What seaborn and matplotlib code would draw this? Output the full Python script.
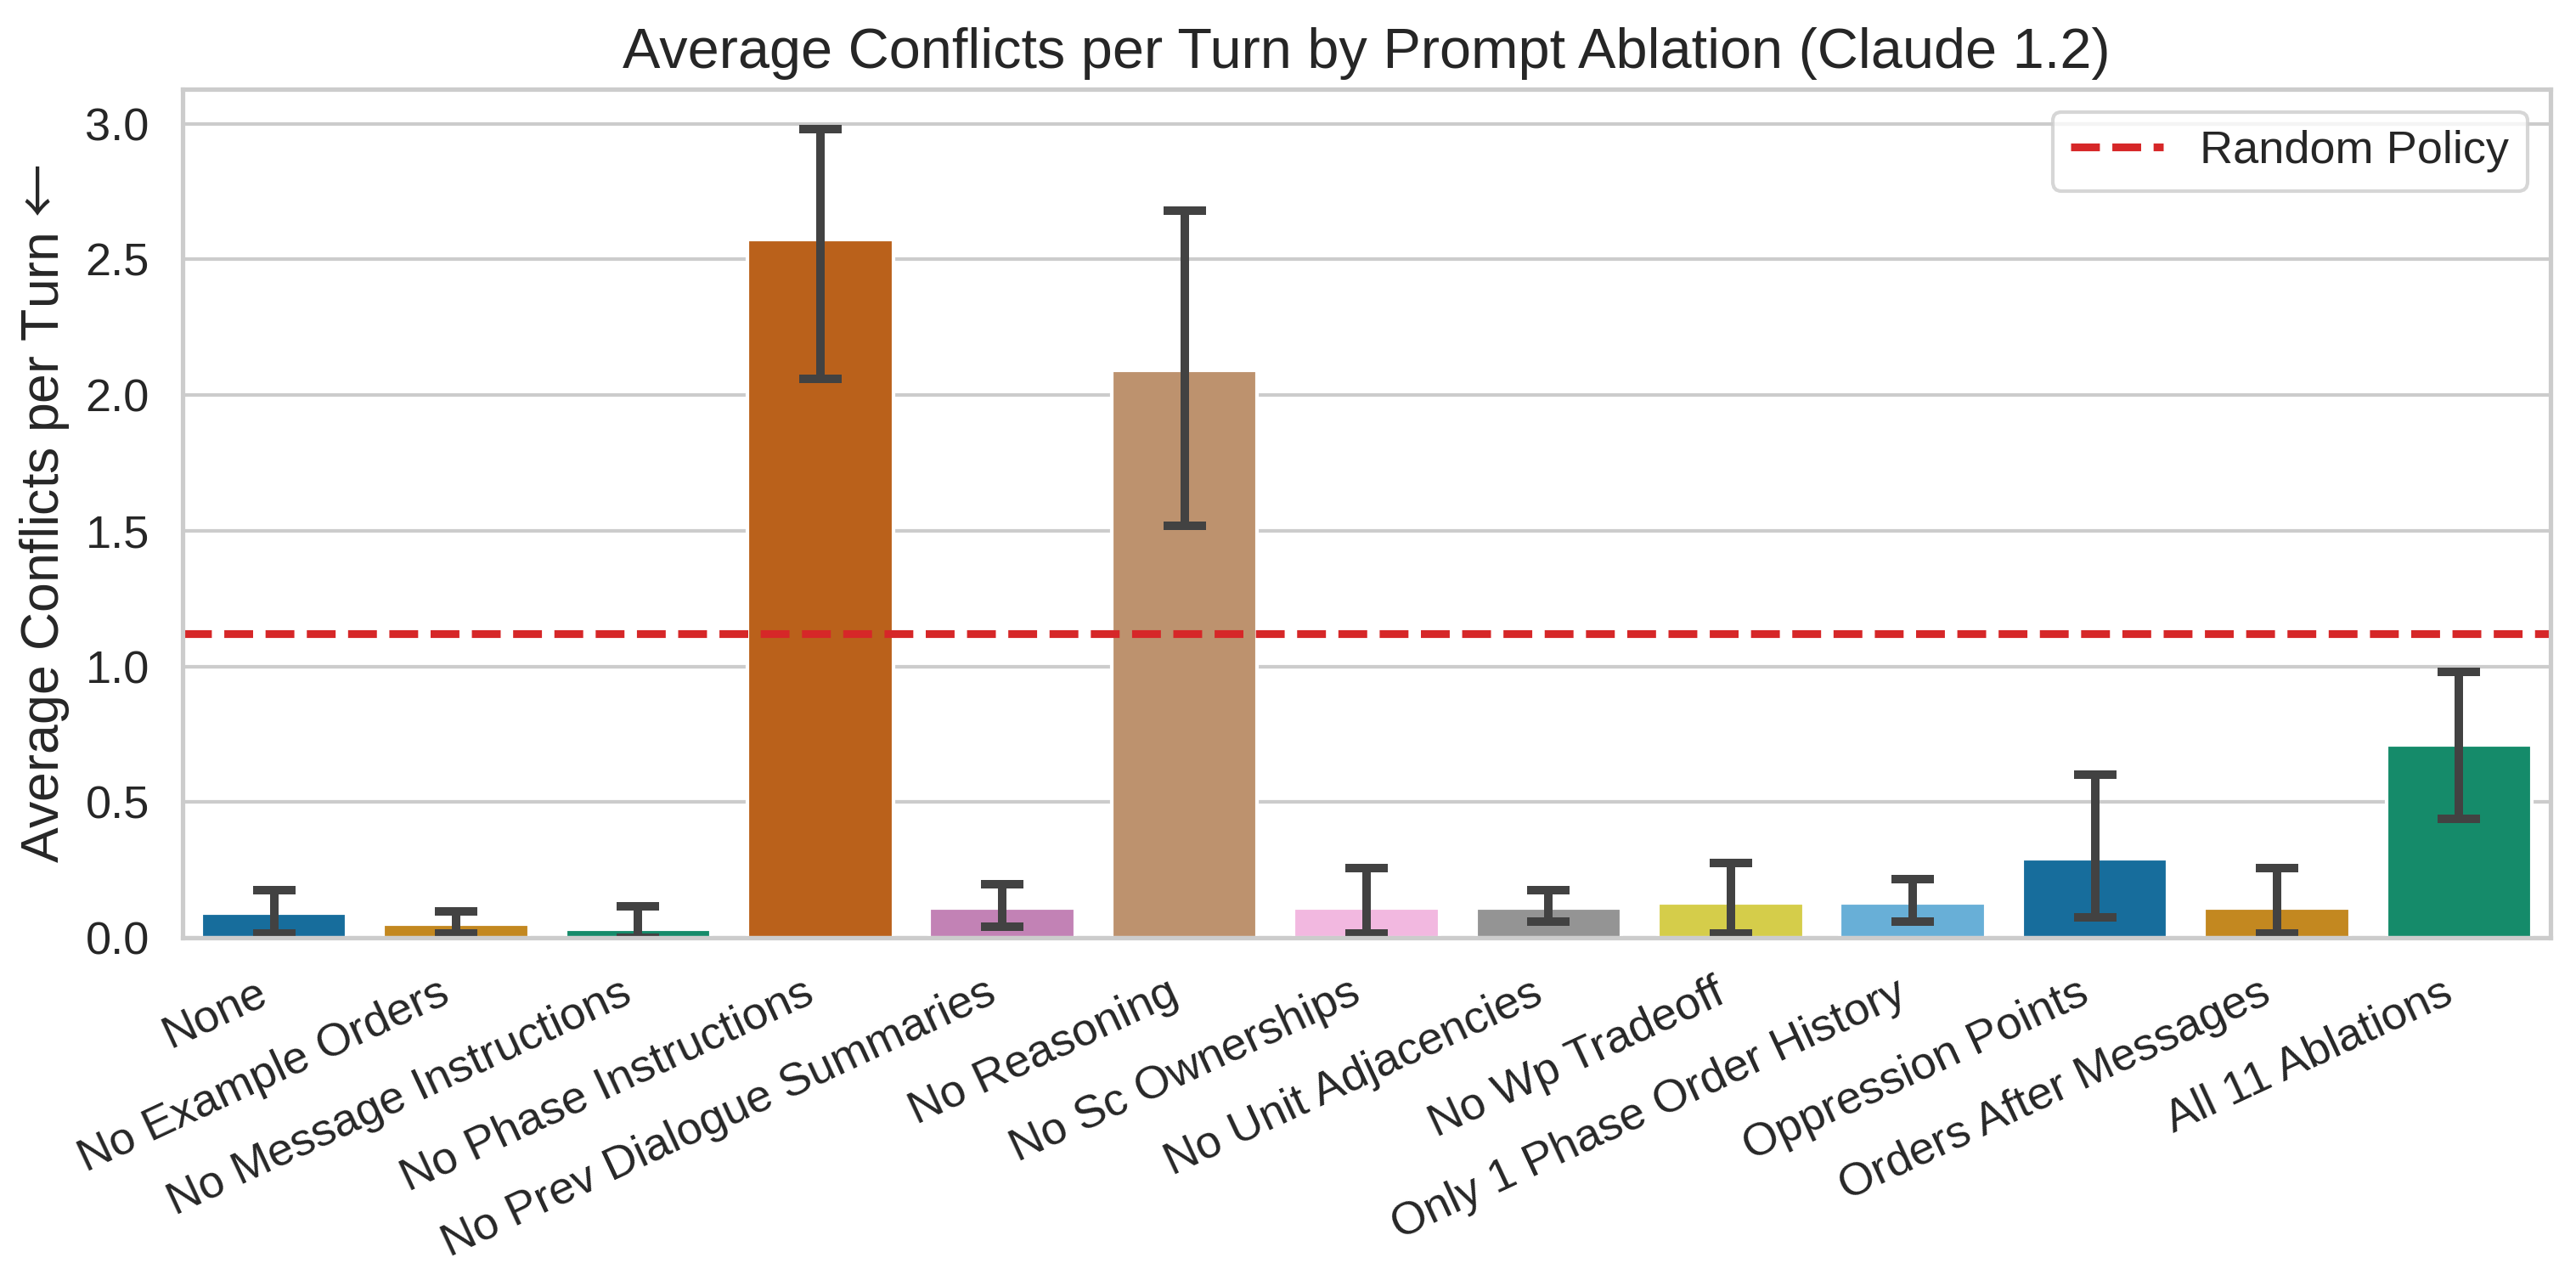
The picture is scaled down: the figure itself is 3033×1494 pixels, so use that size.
import numpy as np
import pandas as pd
import matplotlib
matplotlib.use("Agg")
import matplotlib.pyplot as plt
import seaborn as sns

# values
ablations = ['None', 'No Example Orders', 'No Message Instructions',
             'No Phase Instructions', 'No Prev Dialogue Summaries',
             'No Reasoning', 'No Sc Ownerships', 'No Unit Adjacencies',
             'No Wp Tradeoff', 'Only 1 Phase Order History',
             'Oppression Points', 'Orders After Messages', 'All 11 Ablations']
mean_conflicts = [0.09, 0.05, 0.03, 2.575, 0.11, 2.09, 0.11, 0.11,
                  0.13, 0.13, 0.29, 0.11, 0.71]
ci_low = [0.017, 0.017, 0.0, 2.06, 0.04, 1.52, 0.017, 0.06,
          0.017, 0.06, 0.075, 0.017, 0.44]
ci_high = [0.177, 0.098, 0.117, 2.98, 0.198, 2.68, 0.258, 0.177,
           0.277, 0.217, 0.6, 0.258, 0.979]
random_policy = 1.12

sns.set_theme(style='whitegrid')
plt.rcParams['font.family'] = ['Liberation Sans', 'DejaVu Sans']
# thin full-width arrow for the y label
plt.rcParams['mathtext.fontset'] = 'custom'
plt.rcParams['mathtext.rm'] = 'Noto Sans CJK JP'

df = pd.DataFrame({'ablation': ablations, 'conflicts': mean_conflicts})

fig, ax = plt.subplots(figsize=(10.11, 4.98), dpi=300)
sns.barplot(data=df, x='ablation', y='conflicts', hue='ablation',
            palette=sns.color_palette('colorblind', len(ablations)),
            legend=False, errorbar=None, ax=ax)

# asymmetric confidence intervals
means = np.array(mean_conflicts)
yerr = np.vstack([means - np.array(ci_low), np.array(ci_high) - means])
ax.errorbar(np.arange(len(ablations)), means, yerr=yerr, fmt='none',
            ecolor='#424242', elinewidth=2.4, capsize=6, capthick=2.4)

ax.axhline(random_policy, color='#d62728', linestyle='--', linewidth=2.2,
           label='Random Policy')
ax.set_xlim(-0.5, len(ablations) - 0.5)

ax.set_title('Average Conflicts per Turn by Prompt Ablation (Claude 1.2)',
             fontsize=16)
ax.set_xlabel('')
ax.set_ylabel('Average Conflicts per Turn $\\mathrm{←}$', fontsize=15)
ax.tick_params(axis='y', labelsize=13)
ax.tick_params(axis='x', labelsize=13)
plt.setp(ax.get_xticklabels(), rotation=25, ha='right')
ax.legend(loc='upper right', fontsize=13)

plt.subplots_adjust(left=0.071, right=0.99, top=0.93, bottom=0.261)
plt.savefig('out.png', dpi=300)
plt.close('all')
